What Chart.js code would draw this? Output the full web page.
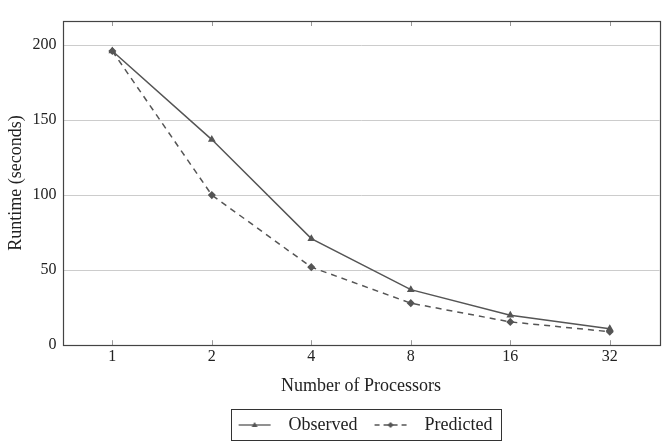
<!DOCTYPE html>
<html>
<head>
<meta charset="utf-8">
<script src="https://cdn.jsdelivr.net/npm/chart.js@4.4.0/dist/chart.umd.min.js"></script>
<style>
  body { margin: 0; background: #fff; }
  #wrap { width: 665px; height: 444px; }
</style>
</head>
<body>
<div id="wrap"><canvas id="runtime_chart" width="665" height="444"></canvas></div>
<script>
var processors = [1, 2, 4, 8, 16, 32];
var observed = [196, 137, 71, 37, 20, 11];
var predicted = [196, 100, 52, 28, 15.5, 9];
var yTicks = [0, 50, 100, 150, 200];

var lineColor = "#555555";
var serif = "'Liberation Serif', 'DejaVu Serif', serif";
var sampleLead = 9;

function to_points(values){
    var pts = [];
    for (var i = 0; i < processors.length; i++) {
        pts.push({x: Math.log2(processors[i]), y: values[i]});
    }
    return pts;
}

// legend sample: line + marker, with blank space before/after
function legend_image(dashed, marker){
    var c = document.createElement("canvas");
    var w = 32;
    c.width = sampleLead + w + 9; c.height = 12;
    var ctx = c.getContext("2d");
    ctx.strokeStyle = lineColor;
    ctx.fillStyle = lineColor;
    ctx.lineWidth = 1.3;
    if (dashed) ctx.setLineDash([5, 4]);
    ctx.beginPath();
    ctx.moveTo(sampleLead, 6); ctx.lineTo(sampleLead + w, 6);
    ctx.stroke();
    ctx.setLineDash([]);
    var cx = sampleLead + w / 2;
    ctx.beginPath();
    if (marker == "triangle") {
        ctx.moveTo(cx, 3); ctx.lineTo(cx + 3, 8); ctx.lineTo(cx - 3, 8);
    } else {
        ctx.moveTo(cx, 3); ctx.lineTo(cx + 3, 6); ctx.lineTo(cx, 9); ctx.lineTo(cx - 3, 6);
    }
    ctx.closePath();
    ctx.fill();
    return c;
}

var frame_plugin = {
    id: "frame",
    afterDraw: function(chart){
        var ctx = chart.ctx;
        var a = chart.chartArea;
        var xs = chart.scales.x;
        ctx.save();
        // inward tick marks at bottom and top
        ctx.strokeStyle = "#999";
        ctx.lineWidth = 1;
        for (var i = 0; i < processors.length; i++) {
            var px = Math.round(xs.getPixelForValue(Math.log2(processors[i]))) + 0.5;
            ctx.beginPath();
            ctx.moveTo(px, a.bottom); ctx.lineTo(px, a.bottom - 5);
            ctx.moveTo(px, a.top); ctx.lineTo(px, a.top + 5);
            ctx.stroke();
        }
        // plot frame
        ctx.strokeStyle = "#444";
        ctx.lineWidth = 1.2;
        ctx.strokeRect(Math.round(a.left) + 0.5, Math.round(a.top) + 0.5,
                       Math.round(a.right - a.left), Math.round(a.bottom - a.top));
        // legend box
        var boxes = chart.legend.legendHitBoxes;
        if (boxes && boxes.length) {
            var l = Infinity, r = -Infinity, t = Infinity, b = -Infinity;
            boxes.forEach(function(h){
                l = Math.min(l, h.left); r = Math.max(r, h.left + h.width);
                t = Math.min(t, h.top); b = Math.max(b, h.top + h.height);
            });
            l += sampleLead;
            ctx.strokeStyle = "#333";
            ctx.lineWidth = 1;
            ctx.strokeRect(Math.round(l - 8) + 0.5, Math.round(t - 7) + 0.5,
                           Math.round(r - l + 16), Math.round(b - t + 13));
        }
        ctx.restore();
    }
};

new Chart(document.getElementById("runtime_chart"), {
    type: "line",
    data: {
        datasets: [{
            label: "Observed",
            data: to_points(observed),
            borderColor: lineColor,
            backgroundColor: lineColor,
            borderWidth: 1.5,
            pointStyle: "triangle",
            pointRadius: 3,
            fill: false,
            tension: 0
        }, {
            label: "Predicted",
            data: to_points(predicted),
            borderColor: lineColor,
            backgroundColor: lineColor,
            borderWidth: 1.5,
            borderDash: [6, 5],
            pointStyle: "rectRot",
            pointRadius: 3,
            fill: false,
            tension: 0
        }]
    },
    options: {
        responsive: false,
        animation: false,
        layout: { padding: { top: 21, right: 5, left: 5, bottom: 0 } },
        plugins: {
            legend: {
                display: true,
                position: "bottom",
                fullSize: false, // center the legend under the plot area
                labels: {
                    usePointStyle: true,
                    pointStyleWidth: sampleLead + 41,
                    color: "#222",
                    font: { family: serif, size: 18 },
                    padding: 8,
                    generateLabels: function(chart){
                        return [
                            {text: "Observed", pointStyle: legend_image(false, "triangle"), datasetIndex: 0, lineWidth: 0, fontColor: "#222"},
                            {text: "Predicted", pointStyle: legend_image(true, "diamond"), datasetIndex: 1, lineWidth: 0, fontColor: "#222"}
                        ];
                    }
                }
            },
            tooltip: { enabled: false }
        },
        scales: {
            x: {
                type: "linear",
                min: -0.5,
                max: 5.5,
                afterBuildTicks: function(axis){
                    axis.ticks = processors.map(function(p){ return {value: Math.log2(p)}; });
                },
                ticks: {
                    color: "#222",
                    font: { family: serif, size: 16 },
                    padding: 2,
                    callback: function(v){ return String(Math.pow(2, v)); }
                },
                grid: { display: false, drawTicks: false, tickLength: 0 },
                border: { display: false },
                title: {
                    display: true,
                    text: "Number of Processors",
                    color: "#222",
                    font: { family: serif, size: 18 },
                    padding: { top: 7, bottom: 11 }
                }
            },
            y: {
                min: 0,
                max: 216,
                afterBuildTicks: function(axis){
                    axis.ticks = yTicks.map(function(v){ return {value: v}; });
                },
                ticks: {
                    color: "#222",
                    font: { family: serif, size: 16 },
                    padding: 6
                },
                grid: { color: "#cccccc", lineWidth: 1, drawTicks: false },
                border: { display: false },
                title: {
                    display: true,
                    text: "Runtime (seconds)",
                    color: "#222",
                    font: { family: serif, size: 18 },
                    padding: { top: 0, bottom: 0 }
                }
            }
        }
    },
    plugins: [frame_plugin]
});
</script>
</body>
</html>
